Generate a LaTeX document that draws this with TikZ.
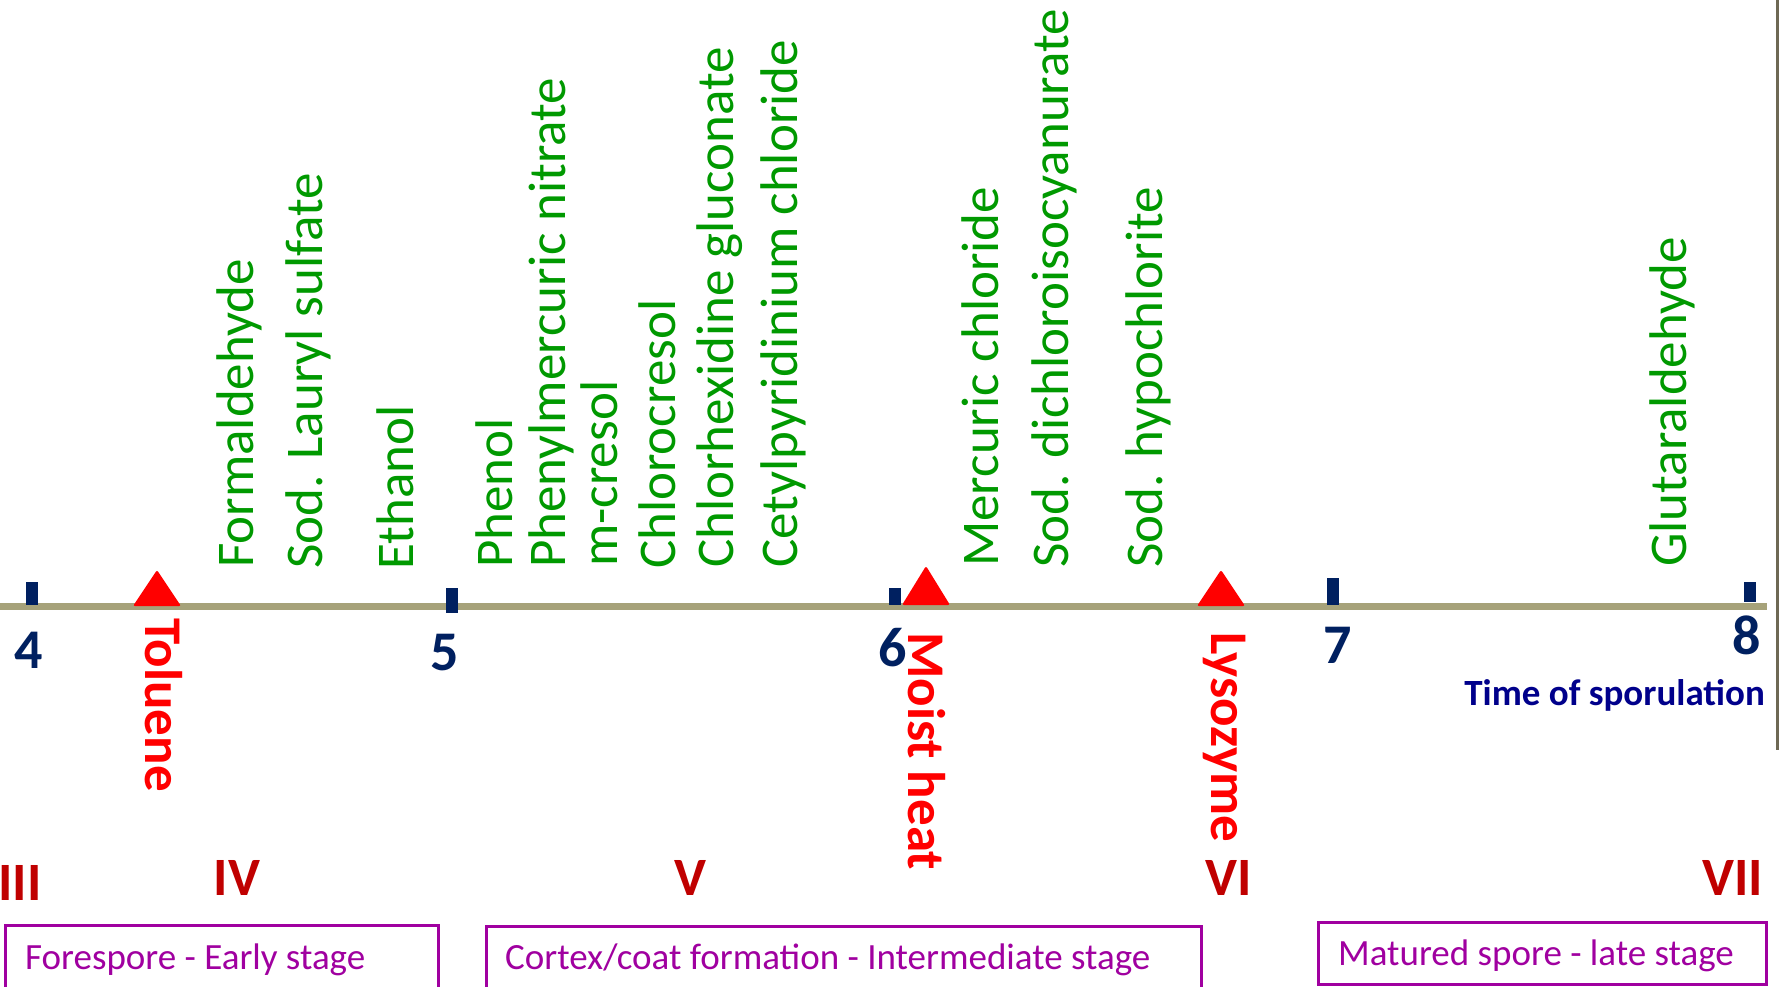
\documentclass[tikz,border=0pt]{standalone}
\usepackage{fontspec}
\setmainfont{Carlito}
\definecolor{axiscol}{RGB}{166,162,122}
\definecolor{navy}{RGB}{0,32,96}
\definecolor{timeblue}{RGB}{0,0,139}
\definecolor{agentred}{RGB}{255,0,0}
\definecolor{darkred}{RGB}{192,0,0}
\definecolor{chemgreen}{RGB}{0,153,0}
\definecolor{stagepurple}{RGB}{160,0,160}
\definecolor{bordercol}{RGB}{110,104,84}
\pgfdeclareradialshading{vign}{\pgfpoint{0bp}{0bp}}{color(0bp)=(white); color(36bp)=(white); color(50bp)=(black!12); color(100bp)=(black!12)}
\begin{document}
\begin{tikzpicture}[x=1pt,y=-1pt,
  chem/.style={text=chemgreen, font=\fontsize{53}{60}\selectfont, rotate=90, anchor=base west, inner sep=0pt},
  agent/.style={text=agentred, font=\fontsize{53}{60}\selectfont\bfseries, rotate=-90, anchor=base west, inner sep=0pt},
  num/.style={text=navy, font=\fontsize{56}{60}\selectfont\bfseries, inner sep=0pt},
  roman/.style={text=darkred, font=\fontsize{54}{60}\selectfont\bfseries, inner sep=0pt, anchor=base},
  tickmark/.style={fill=navy, inner sep=0pt, minimum width=12pt},
  marker/.style={fill=agentred, rounded corners=2pt},
  stagebox/.style={draw=stagepurple, line width=3pt, inner sep=0pt, anchor=north west},
  stagetext/.style={text=stagepurple, font=\fontsize{37}{44}\selectfont, inner sep=0pt, anchor=base west},
]
\useasboundingbox (0,0) rectangle (1779,986);
\begin{scope}
\clip (0,0) rectangle (1779,986);
\shade[shading=vign] (-350,-900) rectangle (2150,1400);
\fill[bordercol] (1776,0) rectangle (1779,750);

% axis
\coordinate (axL) at (0,606);
\coordinate (axR) at (1767,606);
\draw[axiscol, line width=7pt] (axL) -- (axR);

% ticks
\node[tickmark, minimum height=23pt] (t4) at (32,593.5) {};
\node[tickmark, minimum height=25pt] (t5) at (452,600.5) {};
\node[tickmark, minimum height=17pt] (t6) at (895,596.5) {};
\node[tickmark, minimum height=27pt] (t7) at (1333,591.5) {};
\node[tickmark, minimum height=20pt] (t8) at (1749.5,592) {};

% tick numbers
\node[num] (n4) at (29,650) {4};
\node[num] (n5) at (445,653) {5};
\node[num] (n6) at (893,648) {6};
\node[num] (n7) at (1338,645) {7};
\node[num] (n8) at (1747,635) {8};
\node[text=timeblue, font=\fontsize{37}{44}\selectfont\bfseries, inner sep=0pt, anchor=base east] (time) at (1765,705) {Time of sporulation};

% red markers
\fill[marker] (157,570) -- (181,606) -- (133,606) -- cycle;
\fill[marker] (926,566) -- (950,605) -- (902,605) -- cycle;
\fill[marker] (1221,570) -- (1245,606) -- (1197,606) -- cycle;

% red agents
\node[agent] (tol) at (145,618) {Toluene};
\node[agent] (moist) at (908,632) {Moist heat};
\node[agent] (lys) at (1211,632) {Lysozyme};

% green chemicals
\node[chem] (c1) at (253,568) {Formaldehyde};
\node[chem] (c2) at (322,569) {Sod. Lauryl sulfate};
\node[chem] (c3) at (413,570) {Ethanol};
\node[chem] (c4) at (512,568) {Phenol};
\node[chem] (c5) at (565,568) {Phenylmercuric nitrate};
\node[chem] (c6) at (617,567) {m-cresol};
\node[chem] (c7) at (675,569) {Chlorocresol};
\node[chem] (c8) at (733,568) {Chlorhexidine gluconate};
\node[chem] (c9) at (797,568) {Cetylpyridinium chloride};
\node[chem] (c10) at (998,567) {Mercuric chloride};
\node[chem] (c11) at (1068,568) {Sod. dichloroisocyanurate};
\node[chem] (c12) at (1162,568) {Sod. hypochlorite};
\node[chem] (c13) at (1686,567) {Glutaraldehyde};

% stage numerals
\node[roman] (r3) at (20,900) {III};
\node[roman] (r4) at (237,895) {IV};
\node[roman] (r5) at (690,895) {V};
\node[roman] (r6) at (1229,895) {VI};
\node[roman] (r7) at (1733,895) {VII};

% stage boxes
\node[stagebox, minimum width=433pt, minimum height=90pt] (b1) at (4,924) {};
\node[stagebox, minimum width=715pt, minimum height=90pt] (b2) at (485,925) {};
\node[stagebox, minimum width=448pt, minimum height=62pt] (b3) at (1317,921) {};
\node[stagetext] (s1) at (25,969) {Forespore - Early stage};
\node[stagetext] (s2) at (505,969) {Cortex/coat formation - Intermediate stage};
\node[stagetext] (s3) at (1338,965) {Matured spore - late stage};
\end{scope}
\end{tikzpicture}
\end{document}
